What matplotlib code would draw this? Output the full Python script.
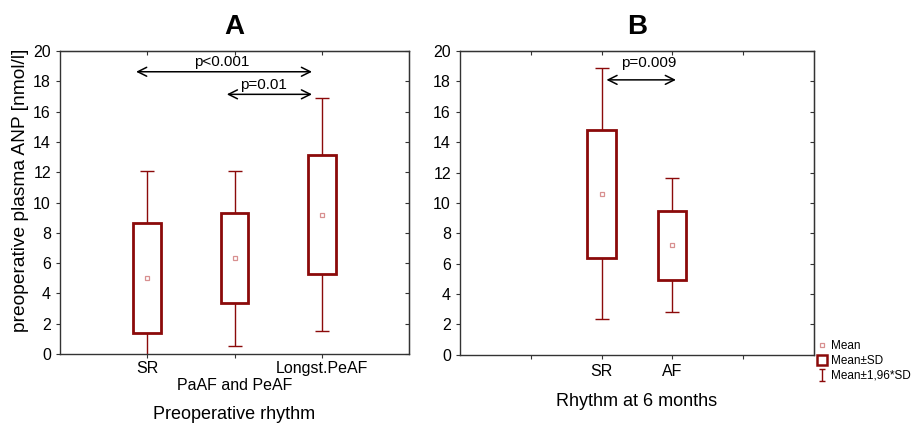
import matplotlib
matplotlib.use("Agg")
import matplotlib.pyplot as plt
from matplotlib.lines import Line2D
from matplotlib.path import Path

plt.rcParams['font.family'] = ['Liberation Sans', 'DejaVu Sans']

# ---- data ----
a_cats = ["SR", "PaAF and PeAF", "Longst.PeAF"]
a_pos = [1, 2, 3]
a_mean = [5.0, 6.35, 9.2]
a_sd_lo = [1.4, 3.35, 5.3]
a_sd_hi = [8.65, 9.3, 13.15]
a_ci_lo = [-2.1, 0.55, 1.5]
a_ci_hi = [12.1, 12.1, 16.9]

b_cats = ["SR", "AF"]
b_pos = [2, 3]
b_mean = [10.6, 7.2]
b_sd_lo = [6.4, 4.95]
b_sd_hi = [14.8, 9.5]
b_ci_lo = [2.35, 2.8]
b_ci_hi = [18.85, 11.65]

yticks = [0, 2, 4, 6, 8, 10, 12, 14, 16, 18, 20]

RED = "#8b0a0a"
PINK = "#d89090"

fig = plt.figure(figsize=(9.12, 4.25), dpi=100)
axA = fig.add_axes([0.0658, 0.167, 0.3827, 0.713])
axB = fig.add_axes([0.5044, 0.165, 0.388, 0.715])


def draw(ax, pos, mean, slo, shi, clo, chi, width, cap):
    ax.errorbar(pos, mean, yerr=[[m - l for m, l in zip(mean, clo)],
                                 [h - m for m, h in zip(mean, chi)]],
                fmt='none', ecolor=RED, elinewidth=1.0, capsize=cap,
                capthick=1.0, zorder=2)
    ax.bar(pos, [h - l for h, l in zip(shi, slo)], bottom=slo, width=width,
           facecolor='white', edgecolor=RED, linewidth=2.0, zorder=3)
    ax.plot(pos, mean, ls='', marker='s', ms=3.5, mfc='none', mec=PINK,
            mew=0.9, zorder=4)
    ax.set_ylim(0, 20)
    ax.set_yticks(yticks)
    ax.tick_params(axis='both', direction='out', length=3, labelsize=11.5,
                   color='#333333')
    for s in ax.spines.values():
        s.set_color('#333333')
        s.set_linewidth(1.0)


def inner_ticks(ax, xt):
    sx = ax.secondary_xaxis('top')
    sx.set_xticks(xt)
    sx.set_xticklabels([])
    sx.tick_params(direction='in', length=3, color='#333333')
    sy = ax.secondary_yaxis('right')
    sy.set_yticks(yticks)
    sy.set_yticklabels([])
    sy.tick_params(direction='in', length=3, color='#333333')


draw(axA, a_pos, a_mean, a_sd_lo, a_sd_hi, a_ci_lo, a_ci_hi, 0.32, 4.7)
axA.set_xlim(0, 4)
axA.set_xticks(a_pos)
axA.set_xticklabels([])
for i, (p, c) in enumerate(zip(a_pos, a_cats)):
    off = 0.08 if i == 1 else 0.022
    axA.text(p, -off, c, transform=axA.get_xaxis_transform(), ha='center',
             va='top', fontsize=11.5)
axA.set_xlabel("Preoperative rhythm", fontsize=13, labelpad=31)
axA.set_ylabel("preoperative plasma ANP [nmol/l]", fontsize=13.8)
axA.yaxis.set_label_coords(-0.088, 0.54)
axA.set_title("A", fontsize=20, fontweight='bold', pad=12)
inner_ticks(axA, a_pos)

arr = dict(arrowstyle='<->', color='black', lw=1.1, mutation_scale=16)
axA.annotate('', xy=(0.84, 18.63), xytext=(2.92, 18.63), arrowprops=arr)
axA.text(1.85, 19.25, "p<0.001", ha='center', va='center', fontsize=11)
axA.annotate('', xy=(1.88, 17.14), xytext=(2.92, 17.14), arrowprops=arr)
axA.text(2.33, 17.75, "p=0.01", ha='center', va='center', fontsize=11)

draw(axB, b_pos, b_mean, b_sd_lo, b_sd_hi, b_ci_lo, b_ci_hi, 0.4, 4.7)
axB.set_xlim(0, 5)
axB.set_xticks([1, 2, 3, 4])
axB.set_xticklabels(["", b_cats[0], b_cats[1], ""])
axB.set_xlabel("Rhythm at 6 months", fontsize=13, labelpad=10)
axB.set_title("B", fontsize=20, fontweight='bold', pad=12)
inner_ticks(axB, [1, 2, 3, 4])
axB.annotate('', xy=(2.03, 18.1), xytext=(3.09, 18.1), arrowprops=arr)
axB.text(2.66, 19.2, "p=0.009", ha='center', va='center', fontsize=11)

# legend
ipath = Path([(-0.5, 1), (0.5, 1), (0, 1), (0, -1), (-0.5, -1), (0.5, -1)],
             [Path.MOVETO, Path.LINETO, Path.MOVETO, Path.LINETO,
              Path.MOVETO, Path.LINETO])
handles = [
    Line2D([], [], ls='', marker='s', ms=3.5, mfc='none', mec=PINK, mew=0.9),
    Line2D([], [], ls='', marker='s', ms=7.5, mfc='white', mec=RED, mew=1.8),
    Line2D([], [], ls='', marker=ipath, ms=8, mec=RED, mew=1.0),
]
fig.legend(handles, ["Mean", "Mean\u00b1SD", "Mean\u00b11,96*SD"],
           loc='upper left', bbox_to_anchor=(0.896, 0.2), frameon=False,
           fontsize=8.5, handlelength=0.8, handletextpad=0.35, borderpad=0,
           borderaxespad=0, labelspacing=0.25)

fig.savefig("out.png", dpi=100)
